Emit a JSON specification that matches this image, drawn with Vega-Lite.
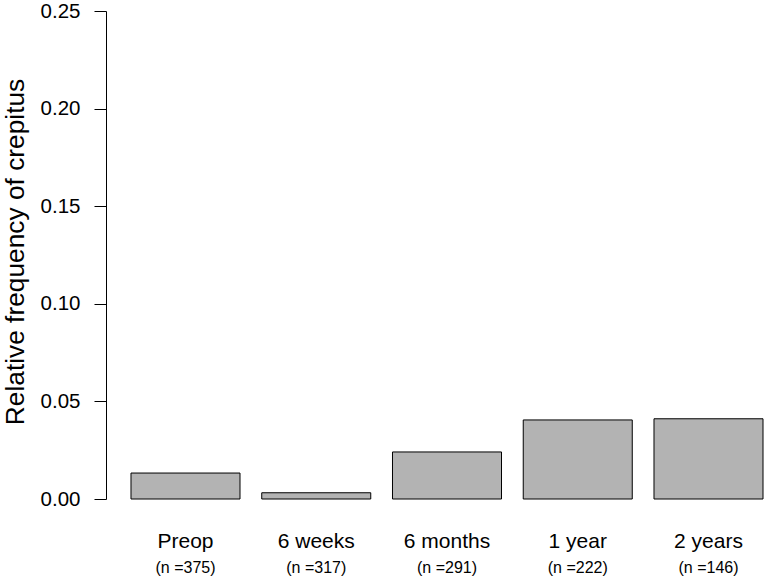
{
  "$schema": "https://vega.github.io/schema/vega-lite/v6.json",
  "width": 657,
  "height": 488,
  "autosize": {"type": "none"},
  "padding": {"left": 106, "top": 11, "right": 1, "bottom": 80},
  "background": "white",
  "config": {
    "view": {"stroke": null},
    "font": "Liberation Sans",
    "axis": {"grid": false, "labelColor": "black", "titleColor": "black", "labelFont": "Liberation Sans", "titleFont": "Liberation Sans"}
  },
  "data": {
    "values": [
      {"period": "Preop", "nlabel": "(n =375)", "freq": 0.0133},
      {"period": "6 weeks", "nlabel": "(n =317)", "freq": 0.0032},
      {"period": "6 months", "nlabel": "(n =291)", "freq": 0.0241},
      {"period": "1 year", "nlabel": "(n =222)", "freq": 0.0405},
      {"period": "2 years", "nlabel": "(n =146)", "freq": 0.0411}
    ]
  },
  "layer": [
    {
      "mark": {"type": "bar", "fill": "#b3b3b3", "stroke": "black", "strokeWidth": 1},
      "encoding": {
        "x": {
          "field": "period", "type": "nominal", "sort": null,
          "scale": {"paddingInner": 0.1663, "paddingOuter": 0.0956, "align": 1},
          "axis": {"orient": "bottom", "title": null, "domain": false, "ticks": false, "tickSize": 0, "labelAngle": 0, "labelFontSize": 21, "labelPadding": 31.7, "labelBaseline": "top"}
        },
        "y": {
          "field": "freq", "type": "quantitative",
          "scale": {"domain": [0, 0.25], "nice": false, "zero": true},
          "axis": {
            "title": "Relative frequency of crepitus",
            "values": [0, 0.05, 0.1, 0.15, 0.2, 0.25],
            "format": ".2f",
            "domainColor": "black", "domainWidth": 1,
            "tickColor": "black", "tickWidth": 1, "tickSize": 12,
            "labelFontSize": 20.5, "labelPadding": 14,
            "titleFontSize": 26.3, "titleFontWeight": "normal",
            "titleX": -83, "titleY": 240.5, "titleAlign": "center", "titleBaseline": "alphabetic", "titleAngle": -90
          }
        }
      }
    },
    {
      "mark": {"type": "bar", "opacity": 0},
      "encoding": {
        "x": {
          "field": "nlabel", "type": "nominal", "sort": null,
          "scale": {"paddingInner": 0.1663, "paddingOuter": 0.0956, "align": 1},
          "axis": {"orient": "bottom", "title": null, "domain": false, "ticks": false, "tickSize": 0, "labelAngle": 0, "labelFontSize": 16, "labelPadding": 60, "labelBaseline": "top"}
        },
        "y": {"field": "freq", "type": "quantitative"}
      }
    }
  ],
  "resolve": {"scale": {"x": "independent"}, "axis": {"x": "independent"}}
}
